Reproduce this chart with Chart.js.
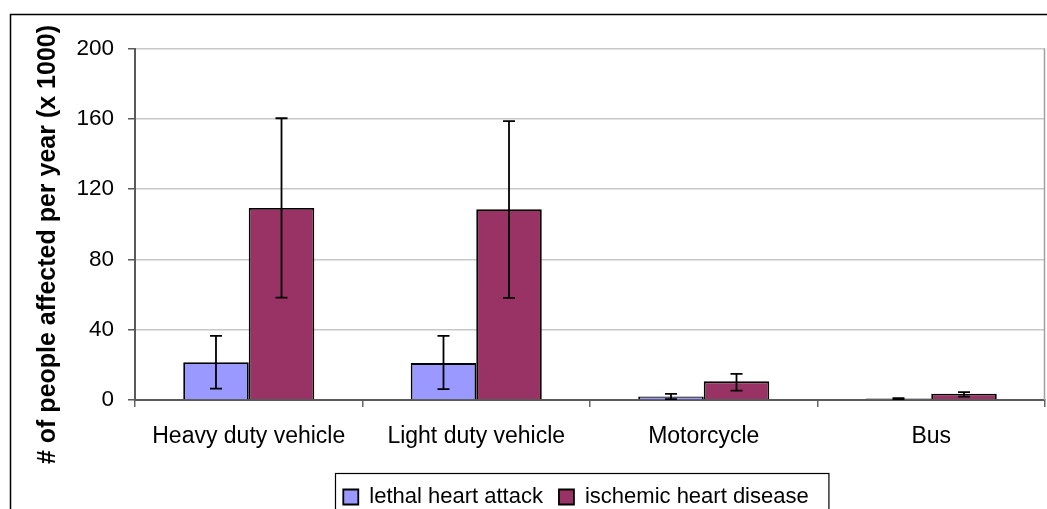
<!DOCTYPE html>
<html>
<head>
<meta charset="utf-8">
<script src="https://cdn.jsdelivr.net/npm/chart.js@4.4.1/dist/chart.umd.min.js"></script>
<style>
  html, body { margin: 0; padding: 0; background: #fff; overflow: hidden; }
  #wrap { position: relative; width: 1047px; height: 530px; }
</style>
</head>
<body>
<div id="wrap"><canvas id="chart"></canvas></div>
<script>
// Data
const categories = ['Heavy duty vehicle', 'Light duty vehicle', 'Motorcycle', 'Bus'];
const lethalHeartAttack = [21.5, 21, 2, 0.8];
const lethalErrUp = [15, 15.5, 1.5, 0.3];
const lethalErrDown = [15, 14.8, 1.5, 0.3];
const ischemicHeartDisease = [109.3, 108.5, 10.6, 3.6];
const ischemicErrUp = [51, 50.2, 4.3, 0.9];
const ischemicErrDown = [51, 50.4, 5.3, 1.7];
const yTicks = [0, 40, 80, 120, 160, 200];
const yTitle = '# of people affected per year (x 1000)';

const FONT = "'Liberation Sans', Arial, sans-serif";
Chart.defaults.font.family = FONT;
Chart.defaults.color = '#000';

// Error bars drawn on top of bars
const errorBars = {
  id: 'errorBars',
  afterDatasetsDraw(chart) {
    const ctx = chart.ctx;
    const y = chart.scales.y;
    chart.data.datasets.forEach((ds, i) => {
      const meta = chart.getDatasetMeta(i);
      meta.data.forEach((bar, j) => {
        const v = ds.data[j];
        const top = y.getPixelForValue(v + ds.errUp[j]);
        const bot = y.getPixelForValue(Math.max(0, v - ds.errDown[j]));
        ctx.save();
        ctx.strokeStyle = '#000';
        ctx.lineWidth = 1.8;
        ctx.beginPath();
        ctx.moveTo(bar.x, top); ctx.lineTo(bar.x, bot);
        ctx.moveTo(bar.x - 6, top); ctx.lineTo(bar.x + 6, top);
        ctx.moveTo(bar.x - 6, bot); ctx.lineTo(bar.x + 6, bot);
        ctx.stroke();
        ctx.restore();
      });
    });
  }
};

// Outer frame, plot right edge, legend box, y title
const frame = {
  id: 'frame',
  afterLayout(chart) {
    // nudge legend a bit left like the original
    chart.legend.left -= 14;
    chart.legend.right -= 14;
  },
  beforeDraw(chart) {
    const ctx = chart.ctx;
    ctx.save();
    ctx.fillStyle = '#fff';
    ctx.fillRect(0, 0, chart.width, chart.height);
    ctx.strokeStyle = '#000';
    ctx.lineWidth = 1.5;
    ctx.strokeRect(10.5, 14.5, chart.width + 10, chart.height);
    ctx.restore();
  },
  beforeDatasetsDraw(chart) {
    const a = chart.chartArea;
    const ctx = chart.ctx;
    ctx.save();
    ctx.strokeStyle = '#a0a0a0';
    ctx.lineWidth = 1.5;
    ctx.beginPath();
    ctx.moveTo(a.right - 0.5, a.top);
    ctx.lineTo(a.right - 0.5, a.bottom);
    ctx.stroke();
    ctx.restore();
  },
  afterDraw(chart) {
    const ctx = chart.ctx;
    const hb = chart.legend.legendHitBoxes;
    ctx.save();
    if (hb && hb.length) {
      const last = hb[hb.length - 1];
      const left = hb[0].left - 8;
      const right = last.left + last.width + 20;
      const top = hb[0].top + hb[0].height / 2 - 24;
      ctx.strokeStyle = '#000';
      ctx.lineWidth = 1.2;
      ctx.strokeRect(Math.round(left) + 0.5, Math.round(top) + 0.5, right - left, chart.height);
    }
    // y axis title
    ctx.translate(48.5, 244.5);
    ctx.rotate(-Math.PI / 2);
    ctx.font = 'bold 25px ' + FONT;
    ctx.fillStyle = '#000';
    ctx.textAlign = 'center';
    ctx.textBaseline = 'middle';
    ctx.fillText(yTitle, 0, 0);
    ctx.restore();
  }
};

new Chart(document.getElementById('chart'), {
  type: 'bar',
  data: {
    labels: categories,
    datasets: [
      {
        label: 'lethal heart attack',
        data: lethalHeartAttack,
        errUp: lethalErrUp,
        errDown: lethalErrDown,
        backgroundColor: '#9999ff',
        borderColor: '#000',
        borderWidth: 1.8
      },
      {
        label: 'ischemic heart disease',
        data: ischemicHeartDisease,
        errUp: ischemicErrUp,
        errDown: ischemicErrDown,
        backgroundColor: '#993366',
        borderColor: '#000',
        borderWidth: 1.8
      }
    ]
  },
  options: {
    responsive: true,
    maintainAspectRatio: false,
    animation: false,
    categoryPercentage: 0.576,
    barPercentage: 1,
    layout: { padding: { left: 30, top: 48.5, right: 2, bottom: 12 } },
    plugins: {
      tooltip: { enabled: false },
      legend: {
        position: 'bottom',
        fullSize: false,
        labels: {
          font: { size: 22 },
          color: '#000',
          boxWidth: 15,
          boxHeight: 15,
          padding: 16
        }
      }
    },
    scales: {
      x: {
        grid: {
          offset: true,
          drawOnChartArea: false,
          color: '#666',
          lineWidth: 1.5,
          tickLength: 7
        },
        border: { color: '#5a5a5a', width: 2 },
        ticks: { font: { size: 23 }, color: '#000', padding: 16, maxRotation: 0 },
        afterFit(scale) { scale.height = 70; }
      },
      y: {
        min: 0,
        max: 200,
        afterBuildTicks(scale) { scale.ticks = yTicks.map(v => ({ value: v })); },
        grid: {
          color: ctx => ctx.tick && ctx.tick.value === 0 ? '#5a5a5a' : '#c8c8c8',
          lineWidth: 1.5,
          tickColor: '#5a5a5a',
          tickLength: 7
        },
        border: { color: '#5a5a5a', width: 2 },
        ticks: { font: { size: 22.5 }, color: '#000', padding: 14 },
        afterFit(scale) { scale.width = 105; }
      }
    }
  },
  plugins: [errorBars, frame]
});
</script>
</body>
</html>
